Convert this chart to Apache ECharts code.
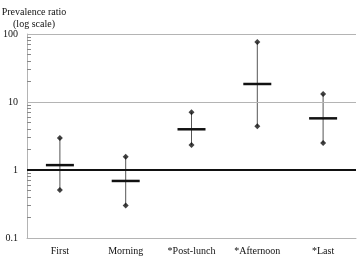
<!DOCTYPE html>
<html>
<head>
<meta charset="utf-8">
<script src="https://cdn.jsdelivr.net/npm/echarts@6/dist/echarts.min.js"></script>
<style>
  html, body { margin: 0; padding: 0; background: #fff; }
  #chart { width: 358px; height: 258px; }
</style>
</head>
<body>
<div id="chart"></div>
<script>
var categories = ['First', 'Morning', '*Post-lunch', '*Afternoon', '*Last'];
var estimates = [1.18, 0.69, 3.97, 18.4, 5.75];
var lowers = [0.51, 0.30, 2.33, 4.4, 2.5];
var uppers = [2.95, 1.57, 7.06, 76, 13.1];
var gridValues = [10, 100];
var minorTicks = [0.2, 0.3, 0.4, 0.5, 0.6, 0.7, 0.8, 0.9, 2, 3, 4, 5, 6, 7, 8, 9, 20, 30, 40, 50, 60, 70, 80, 90];

var serif = '"Liberation Serif", "DejaVu Serif", serif';

var chart = echarts.init(document.getElementById('chart'));

var errData = categories.map(function (c, i) {
  return [i, lowers[i], uppers[i], estimates[i]];
});

var option = {
  animation: false,
  title: {
    text: 'Prevalence ratio\n(log scale)',
    left: 29,
    top: 1,
    textAlign: 'center',
    textStyle: { fontFamily: serif, fontSize: 10, fontWeight: 'normal', color: '#111', lineHeight: 12 }
  },
  grid: { left: 26, right: 2, top: 34, bottom: 20 },
  xAxis: {
    type: 'category',
    data: categories,
    axisLine: { lineStyle: { color: '#b4b4b4', width: 1 } },
    axisTick: { show: false },
    axisLabel: { fontFamily: serif, fontSize: 10, color: '#111', margin: 8 }
  },
  yAxis: {
    type: 'log',
    logBase: 10,
    min: 0.1,
    max: 100,
    axisLine: { show: true, lineStyle: { color: '#b4b4b4' } },
    axisTick: {
      show: true,
      inside: true,
      length: 4,
      customValues: minorTicks,
      lineStyle: { color: '#888', width: 1 }
    },
    splitLine: { show: false },
    axisLabel: { fontFamily: serif, fontSize: 10, color: '#111', margin: 9 }
  },
  series: [{
    type: 'custom',
    data: errData,
    renderItem: function (params, api) {
      var x = api.value(0);
      var lo = api.coord([x, api.value(1)]);
      var hi = api.coord([x, api.value(2)]);
      var mid = api.coord([x, api.value(3)]);
      var half = 14;
      return {
        type: 'group',
        children: [{
          type: 'line',
          shape: { x1: lo[0], y1: lo[1], x2: hi[0], y2: hi[1] },
          style: { stroke: '#555', lineWidth: 1 }
        }, {
          type: 'line',
          shape: { x1: mid[0] - half, y1: mid[1], x2: mid[0] + half, y2: mid[1] },
          style: { stroke: '#111', lineWidth: 2.5 }
        }]
      };
    },
    markLine: {
      silent: true,
      symbol: 'none',
      label: { show: false },
      lineStyle: { color: '#111', width: 2, type: 'solid' },
      data: [{ yAxis: 1 }]
    },
    z: 3
  }, {
    type: 'scatter',
    data: uppers.map(function (v, i) { return [i, v]; }),
    symbol: 'diamond',
    symbolSize: 6,
    itemStyle: { color: '#111' },
    markLine: {
      silent: true,
      symbol: 'none',
      label: { show: false },
      lineStyle: { color: '#b4b4b4', width: 1, type: 'solid' },
      data: gridValues.map(function (v) { return { yAxis: v }; })
    },
    z: 4
  }, {
    type: 'scatter',
    data: lowers.map(function (v, i) { return [i, v]; }),
    symbol: 'diamond',
    symbolSize: 6,
    itemStyle: { color: '#111' },
    z: 4
  }]
};

chart.setOption(option);
</script>
</body>
</html>
